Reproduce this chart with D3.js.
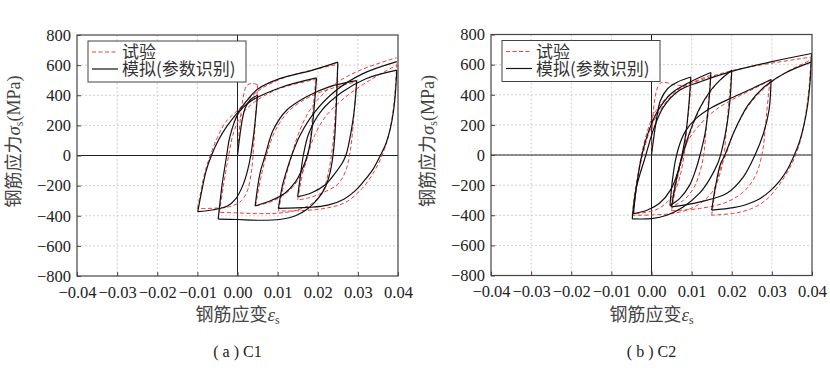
<!DOCTYPE html>
<html>
<head>
<meta charset="utf-8">
<script src="https://cdn.jsdelivr.net/npm/d3@7"></script>
<style>
  body { margin: 0; background: #fff; }
</style>
</head>
<body>
<div id="container"></div>
<script>
const w = 830;
const h = 372;

const xTicks = [-0.04, -0.03, -0.02, -0.01, 0, 0.01, 0.02, 0.03, 0.04];
const yTicks = [-800, -600, -400, -200, 0, 200, 400, 600, 800];
const legendLabels = ["试验", "模拟(参数识别)"];
const captions = ["( a ) C1", "( b ) C2"];

// C1: simulation branches (strain, stress MPa), in loading order
const c1Sim = [
  [[0, 0], [0.0012, 240], [0.002, 320], [0.0032, 370], [0.005, 400]],
  [[0.005, 400], [0.0046, 280], [0.004, 130], [0.0033, 0], [0.0025, -100], [0.0013, -200], [-0.0005, -290], [-0.0025, -335], [-0.006, -360], [-0.0099, -373]],
  [[-0.0099, -373], [-0.0088, -220], [-0.0078, -100], [-0.0065, 0], [-0.0048, 100], [-0.0025, 200], [0, 285], [0.0025, 370], [0.005, 440], [0.0105, 510], [0.0185, 565], [0.025, 620]],
  [[0.025, 620], [0.0247, 380], [0.0243, 150], [0.0238, 0], [0.023, -120], [0.0218, -215], [0.0201, -285], [0.0176, -352], [0.0143, -402], [0.0105, -425], [0.005, -430], [0, -425], [-0.0048, -422]],
  [[-0.0048, -422], [-0.0039, -207], [-0.0027, 0], [-0.0019, 125], [0.0002, 280], [0.0031, 357], [0.0106, 450], [0.0197, 515]],
  [[0.0197, 515], [0.0193, 380], [0.0188, 230], [0.0181, 80], [0.0174, 0], [0.0164, -74], [0.0143, -180], [0.0118, -250], [0.0085, -297], [0.0044, -335]],
  [[0.0044, -335], [0.0056, -118], [0.0069, 0], [0.0089, 169], [0.0123, 302], [0.0172, 390], [0.023, 457], [0.0297, 497]],
  [[0.0297, 497], [0.0293, 350], [0.0289, 258], [0.0276, 60], [0.027, 0], [0.026, -55], [0.0243, -118], [0.0218, -196], [0.0185, -247], [0.015, -273]],
  [[0.015, -273], [0.0157, -130], [0.0164, 0], [0.0178, 150], [0.021, 300], [0.026, 420], [0.032, 510], [0.0397, 567]],
  [[0.0397, 567], [0.0394, 430], [0.0389, 300], [0.0381, 180], [0.037, 80], [0.0356, 0], [0.0338, -90], [0.0315, -170], [0.0293, -235], [0.0265, -290], [0.0225, -330], [0.0176, -345], [0.0102, -351]],
  [[0.0102, -351], [0.0112, -200], [0.0125, -80], [0.0135, 0], [0.0155, 130], [0.019, 280], [0.024, 420], [0.031, 540], [0.0397, 623]]
];

// C1: test branches
const c1Test = [
  [[0, 0], [0.0022, 460], [0.0035, 478], [0.005, 470]],
  [[0.005, 470], [0.0045, 250], [0.004, 50], [0.0035, -100], [0.0025, -230], [0.001, -300], [-0.002, -340], [-0.006, -350], [-0.01, -352]],
  [[-0.01, -352], [-0.0092, -250], [-0.0082, -120], [-0.0068, 0], [-0.005, 120], [-0.003, 220], [0, 300], [0.003, 380], [0.006, 445], [0.012, 520], [0.019, 570], [0.025, 605]],
  [[0.025, 605], [0.0246, 400], [0.0241, 170], [0.0235, 20], [0.0226, -120], [0.0212, -240], [0.0185, -320], [0.0145, -365], [0.01, -383], [0.005, -386], [0, -381], [-0.0045, -378]],
  [[-0.0045, -378], [-0.0035, -200], [-0.0022, 0], [-0.001, 150], [0.001, 270], [0.004, 350], [0.01, 440], [0.0195, 505]],
  [[0.0195, 505], [0.0188, 300], [0.0182, 120], [0.0175, 0], [0.016, -120], [0.013, -230], [0.009, -300], [0.0045, -335]],
  [[0.0045, -335], [0.0058, -150], [0.0072, 0], [0.0095, 170], [0.013, 300], [0.018, 390], [0.024, 450], [0.0297, 490]],
  [[0.0297, 490], [0.0291, 300], [0.0285, 110], [0.0279, 0], [0.027, -100], [0.025, -190], [0.021, -250], [0.0175, -283], [0.015, -295]],
  [[0.015, -295], [0.0162, -120], [0.0175, 0], [0.019, 120], [0.022, 260], [0.027, 390], [0.033, 500], [0.0397, 600]],
  [[0.0397, 610], [0.0393, 440], [0.0387, 280], [0.0378, 150], [0.0366, 40], [0.0352, -50], [0.0333, -140], [0.031, -220], [0.027, -310], [0.022, -350], [0.016, -366], [0.0102, -368]],
  [[0.0102, -368], [0.0115, -200], [0.0135, 0], [0.015, 130], [0.018, 300], [0.023, 450], [0.03, 560], [0.0397, 650]]
];

// C2: simulation branches
const c2Sim = [
  [[0, 0], [0.0012, 230], [0.0022, 360], [0.004, 440], [0.0065, 485], [0.0098, 518]],
  [[0.0098, 518], [0.0093, 330], [0.0086, 150], [0.0076, 0], [0.0066, -110], [0.0048, -230], [0.002, -320], [-0.001, -365], [-0.0045, -389]],
  [[-0.0045, -389], [-0.0037, -200], [-0.0024, 0], [-0.0008, 150], [0.0015, 290], [0.005, 410], [0.01, 490], [0.0148, 548]],
  [[0.0148, 548], [0.0143, 350], [0.0134, 150], [0.0121, 0], [0.011, -100], [0.0095, -200], [0.007, -290], [0.0046, -335]],
  [[0.0046, -335], [0.0052, -170], [0.006, -30], [0.007, 70], [0.0085, 160], [0.011, 240], [0.015, 315], [0.02, 380], [0.025, 440], [0.0298, 501]],
  [[0.0298, 501], [0.0293, 300], [0.0279, 143], [0.0258, 0], [0.0229, -145], [0.0187, -256], [0.0121, -311], [0.005, -345]],
  [[0.005, -345], [0.006, -190], [0.0072, -50], [0.0085, 70], [0.0102, 200], [0.012, 310], [0.0145, 420], [0.017, 495], [0.02, 563]],
  [[0.02, 563], [0.0196, 380], [0.0188, 200], [0.0176, 40], [0.0166, -50], [0.0145, -160], [0.0121, -250], [0.0079, -345], [0.0038, -400], [0, -422], [-0.0048, -424]],
  [[-0.0048, -424], [-0.0038, -220], [-0.0014, 0], [0.0005, 170], [0.003, 320], [0.007, 430], [0.012, 485], [0.02, 555], [0.03, 620], [0.0399, 674]],
  [[0.0399, 674], [0.0395, 480], [0.0389, 330], [0.038, 200], [0.0369, 90], [0.0356, 0], [0.0338, -100], [0.032, -170], [0.0295, -240], [0.027, -290], [0.0235, -330], [0.0204, -349], [0.015, -366]],
  [[0.015, -366], [0.016, -200], [0.0172, -60], [0.0183, 0], [0.0205, 150], [0.024, 330], [0.028, 450], [0.033, 540], [0.0399, 618]]
];

// C2: test branches
const c2Test = [
  [[0, 0], [0.0021, 475], [0.006, 465], [0.0098, 452]],
  [[0.0098, 452], [0.0092, 280], [0.0085, 100], [0.0081, 0], [0.0073, -120], [0.006, -230], [0.004, -310], [0.001, -365], [-0.0045, -392]],
  [[-0.0045, -392], [-0.0037, -200], [-0.0025, 0], [-0.001, 160], [0.001, 290], [0.005, 410], [0.01, 480], [0.0148, 530]],
  [[0.0148, 530], [0.014, 300], [0.0134, 100], [0.013, 0], [0.0121, -110], [0.0105, -220], [0.008, -300], [0.0048, -345]],
  [[0.0048, -345], [0.006, -170], [0.0075, -20], [0.009, 90], [0.012, 200], [0.016, 300], [0.021, 380], [0.0255, 440], [0.0295, 495]],
  [[0.0295, 495], [0.0287, 280], [0.0279, 60], [0.0275, 0], [0.0262, -120], [0.0235, -230], [0.019, -310], [0.012, -355], [0.005, -370]],
  [[0.005, -370], [0.0062, -190], [0.0075, -40], [0.0088, 80], [0.0105, 210], [0.0125, 330], [0.015, 430], [0.0175, 510], [0.02, 565]],
  [[0.02, 565], [0.0192, 330], [0.0185, 120], [0.0181, 0], [0.017, -130], [0.015, -250], [0.011, -340], [0.006, -385], [0, -398], [-0.0048, -400]],
  [[-0.0048, -400], [-0.004, -220], [-0.0022, 0], [0, 190], [0.003, 330], [0.007, 440], [0.012, 495], [0.02, 560], [0.03, 610], [0.0398, 650]],
  [[0.0398, 650], [0.0393, 460], [0.0386, 300], [0.0377, 160], [0.0366, 50], [0.0353, -40], [0.0335, -130], [0.0312, -220], [0.0285, -300], [0.025, -355], [0.021, -385], [0.015, -400]],
  [[0.015, -400], [0.016, -220], [0.0175, -60], [0.0185, 0], [0.0205, 150], [0.024, 320], [0.028, 440], [0.033, 540], [0.0398, 632]]
];

const panels = [
  { left: 77, right: 398, top: 35, bottom: 276, sim: c1Sim, test: c1Test, caption: captions[0] },
  { left: 491, right: 812, top: 34.5, bottom: 275.5, sim: c2Sim, test: c2Test, caption: captions[1] }
];

const serif = "'Liberation Serif', 'Times New Roman', serif";
const cjk = "'Noto Sans CJK SC', sans-serif";

const svg = d3.select("#container").append("svg")
  .attr("width", w).attr("height", h)
  .style("background", "#fff");

panels.forEach(function (p, pi) {
  const x = d3.scaleLinear().domain([-0.04, 0.04]).range([p.left, p.right]);
  const y = d3.scaleLinear().domain([-800, 800]).range([p.bottom, p.top]);
  const g = svg.append("g");

  // grid
  g.selectAll(".gx").data(xTicks.slice(1, -1)).enter().append("line")
    .attr("x1", d => x(d)).attr("x2", d => x(d))
    .attr("y1", p.top).attr("y2", p.bottom)
    .attr("stroke", "#c4c4c4").attr("stroke-width", 0.8).attr("stroke-dasharray", "2,2");
  g.selectAll(".gy").data(yTicks.slice(1, -1)).enter().append("line")
    .attr("x1", p.left).attr("x2", p.right)
    .attr("y1", d => y(d)).attr("y2", d => y(d))
    .attr("stroke", "#c4c4c4").attr("stroke-width", 0.8).attr("stroke-dasharray", "2,2");

  // zero lines
  g.append("line").attr("x1", x(0)).attr("x2", x(0)).attr("y1", p.top).attr("y2", p.bottom)
    .attr("stroke", "#222").attr("stroke-width", 1);
  g.append("line").attr("x1", p.left).attr("x2", p.right).attr("y1", y(0)).attr("y2", y(0))
    .attr("stroke", "#222").attr("stroke-width", 1);

  // curves
  const clipId = "clip" + pi;
  svg.append("clipPath").attr("id", clipId).append("rect")
    .attr("x", p.left).attr("y", p.top).attr("width", p.right - p.left).attr("height", p.bottom - p.top);
  const line = d3.line().x(d => x(d[0])).y(d => y(d[1])).curve(d3.curveCatmullRom.alpha(0.5));
  const cg = g.append("g").attr("clip-path", "url(#" + clipId + ")");
  cg.selectAll(".test").data(p.test).enter().append("path")
    .attr("d", line).attr("fill", "none")
    .attr("stroke", "#f03c3c").attr("stroke-width", 1).attr("stroke-dasharray", "4,2.5");
  cg.selectAll(".sim").data(p.sim).enter().append("path")
    .attr("d", line).attr("fill", "none")
    .attr("stroke", "#111").attr("stroke-width", 1.2);

  // axes with inner ticks
  const xAxis = d3.axisBottom(x).tickValues(xTicks).tickSize(-4).tickPadding(10)
    .tickFormat(d => d3.format(".2f")(d));
  const yAxis = d3.axisLeft(y).tickValues(yTicks).tickSize(-4).tickPadding(6)
    .tickFormat(d3.format("d"));
  const xg = g.append("g").attr("transform", "translate(0," + p.bottom + ")").call(xAxis);
  const yg = g.append("g").attr("transform", "translate(" + p.left + ",0)").call(yAxis);
  [xg, yg].forEach(function (ag) {
    ag.attr("font-family", null).attr("font-size", null);
    ag.select(".domain").remove();
    ag.selectAll("line").attr("stroke", "#444");
    ag.selectAll("text").attr("fill", "#222").style("font-family", serif).style("font-size", "16.5px");
  });

  // frame
  g.append("rect").attr("x", p.left).attr("y", p.top)
    .attr("width", p.right - p.left).attr("height", p.bottom - p.top)
    .attr("fill", "none").attr("stroke", "#444").attr("stroke-width", 1.2);

  // legend
  const lx = p.left + 11, ly = p.top + 6;
  const lg = g.append("g");
  lg.append("rect").attr("x", lx).attr("y", ly).attr("width", 158).attr("height", 41)
    .attr("fill", "#fff").attr("stroke", "#444").attr("stroke-width", 1);
  lg.append("line").attr("x1", lx + 4).attr("x2", lx + 30).attr("y1", ly + 11).attr("y2", ly + 11)
    .attr("stroke", "#f03c3c").attr("stroke-width", 1).attr("stroke-dasharray", "4,2.5");
  lg.append("line").attr("x1", lx + 4).attr("x2", lx + 30).attr("y1", ly + 28).attr("y2", ly + 28)
    .attr("stroke", "#111").attr("stroke-width", 1.2);
  legendLabels.forEach(function (t, i) {
    lg.append("text").attr("x", lx + 34).attr("y", ly + 17 + i * 17)
      .style("font-family", cjk).style("font-size", "17px").attr("fill", "#333").text(t);
  });

  // y title
  const cx = p.left - 57, cy = (p.top + p.bottom) / 2 - 14;
  const yt = g.append("text").attr("transform", "translate(" + cx + "," + cy + ") rotate(-90)")
    .attr("text-anchor", "middle").attr("fill", "#444").style("font-size", "18px");
  yt.append("tspan").style("font-family", cjk).text("钢筋应力");
  yt.append("tspan").style("font-family", serif).style("font-style", "italic").style("font-size", "19px").text("σ");
  yt.append("tspan").style("font-family", serif).style("font-size", "12px").attr("dy", 3).text("s");
  yt.append("tspan").style("font-family", serif).style("font-size", "18px").attr("dy", -3).text("(MPa)");

  // x title
  const xt = g.append("text").attr("x", x(0)).attr("y", p.bottom + 45)
    .attr("text-anchor", "middle").attr("fill", "#444").style("font-size", "18px");
  xt.append("tspan").style("font-family", cjk).text("钢筋应变");
  xt.append("tspan").style("font-family", serif).style("font-style", "italic").style("font-size", "19px").text("ε");
  xt.append("tspan").style("font-family", serif).style("font-size", "12px").attr("dy", 3).text("s");

  // caption
  g.append("text").attr("x", x(0)).attr("y", 357).attr("text-anchor", "middle")
    .attr("fill", "#222").style("font-family", serif).style("font-size", "16px").text(p.caption);
});
</script>
</body>
</html>
